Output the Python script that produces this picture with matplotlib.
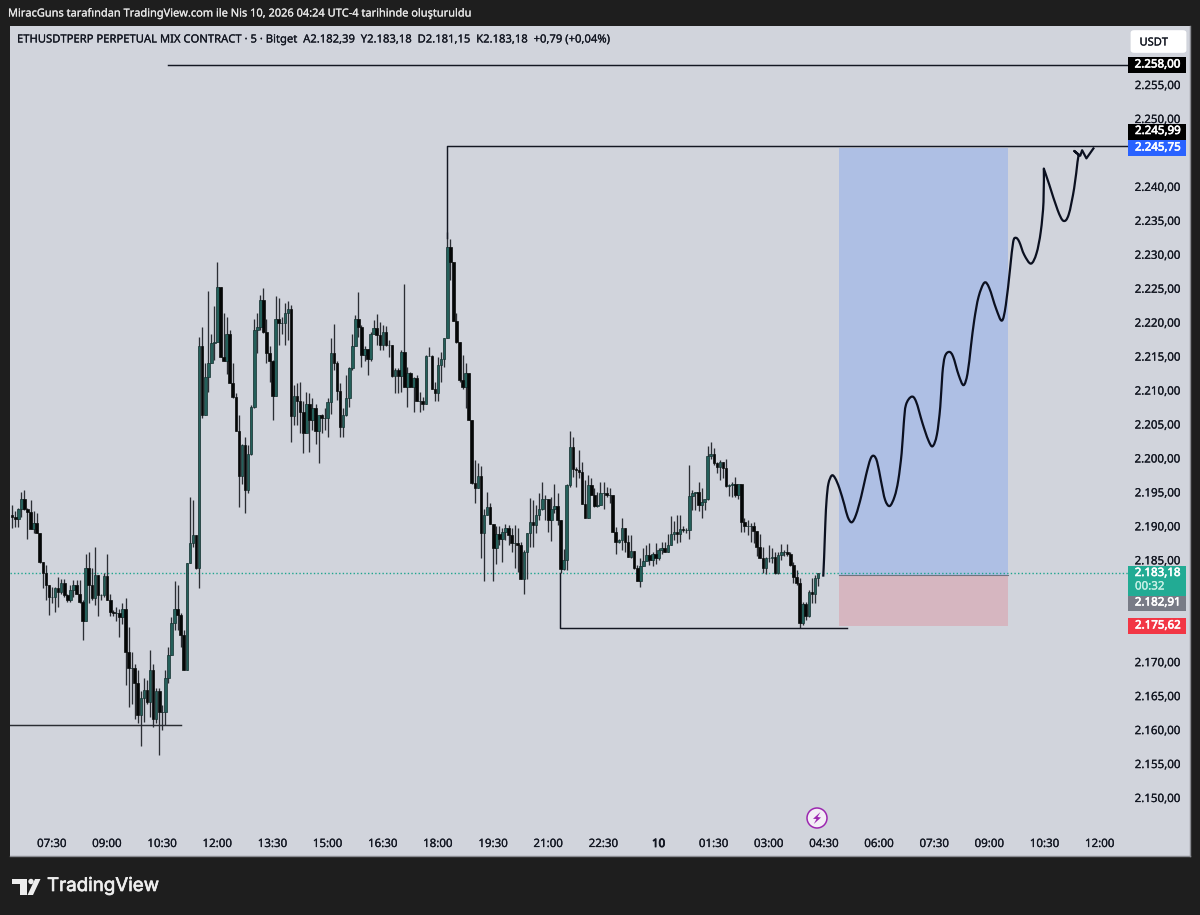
import numpy as np
import matplotlib
matplotlib.use("Agg")
import matplotlib.pyplot as plt
import matplotlib.patheffects as pe
from matplotlib.patches import Rectangle, FancyBboxPatch, Circle, Polygon, PathPatch
from matplotlib.path import Path
from matplotlib.transforms import IdentityTransform

# ---------- data ----------
first_open = 2191.7
closes = [
2191.4,2191.1,2192.5,2194.0,2192.5,2192.1,2189.6,2190.5,2189.0,2184.8,2183.1,2181.4,2179.6,2179.6,2180.9,2180.4,2181.6,2179.9,2179.2,2180.6,
2181.4,2180.1,2178.8,2176.0,2183.8,2181.4,2179.4,2182.8,2179.9,2179.9,2182.7,2179.2,2177.4,2177.2,2177.3,2176.7,2177.9,2171.5,2169.1,2169.1,
2167.0,2162.2,2164.7,2165.9,2164.2,2168.8,2161.7,2165.7,2162.7,2162.7,2167.6,2171.1,2175.7,2177.9,2176.9,2174.0,2168.8,2184.6,2187.5,2188.7,
2183.8,2216.5,2206.4,2212.0,2214.0,2217.0,2217.2,2225.3,2215.0,2214.4,2218.3,2211.1,2209.0,2204.0,2197.4,2202.0,2195.4,2200.6,2207.6,2218.9,
2219.4,2223.3,2218.7,2215.6,2214.3,2209.2,2220.5,2220.0,2220.0,2221.4,2222.0,2206.2,2209.2,2208.4,2206.9,2203.8,2208.0,2205.6,2207.4,2204.0,
2206.4,2205.9,2205.9,2208.3,2215.6,2214.0,2209.9,2204.7,2206.4,2208.9,2213.4,2216.5,2220.6,2219.4,2215.3,2216.1,2214.7,2218.4,2219.2,2218.2,
2216.7,2218.7,2216.7,2216.7,2212.1,2213.0,2212.1,2215.7,2210.6,2212.6,2210.6,2211.8,2208.4,2208.4,2208.1,2215.1,2215.1,2210.3,2209.6,2213.8,
2214.7,2217.7,2231.1,2228.9,2220.3,2217.2,2211.6,2210.5,2212.6,2205.7,2196.4,2195.6,2197.4,2189.1,2191.7,2192.8,2190.4,2186.8,2188.9,2188.2,
2189.2,2189.8,2188.7,2187.5,2187.5,2187.2,2182.3,2186.3,2189.0,2190.7,2190.2,2191.7,2192.6,2194.1,2194.1,2190.9,2192.6,2193.0,2191.0,2183.7,
2185.0,2196.1,2201.7,2198.5,2198.3,2198.0,2193.3,2191.3,2196.1,2194.6,2193.0,2193.1,2194.9,2194.9,2194.6,2194.6,2189.2,2187.7,2188.0,2189.7,
2187.7,2185.5,2186.4,2183.8,2181.9,2184.1,2184.9,2185.8,2185.0,2186.0,2185.3,2186.5,2186.8,2186.3,2187.2,2188.9,2189.2,2188.9,2189.6,2189.5,
2189.5,2194.5,2194.9,2195.0,2193.2,2193.6,2194.0,2200.3,2200.7,2199.3,2198.8,2199.5,2198.6,2195.9,2196.1,2196.3,2194.6,2196.2,2190.7,2190.0,
2190.0,2190.0,2189.3,2187.0,2185.3,2183.8,2185.3,2185.4,2185.5,2183.1,2185.8,2186.3,2186.3,2186.0,2184.3,2182.6,2181.6,2175.7,2178.6,2176.8,
2180.4,2180.1,2182.4,2183.18]
highs = [
2193.2,2192.2,2192.7,2195.1,2195.3,2192.7,2193.9,2192.3,2191.9,2189.0,2184.8,2184.3,2181.4,2181.1,2181.1,2182.6,2182.2,2182.2,2180.1,2181.4,
2182.1,2182.1,2182.1,2179.2,2185.9,2186.3,2183.8,2187.0,2182.8,2180.1,2183.1,2185.9,2180.1,2177.7,2178.1,2177.9,2178.7,2179.4,2175.2,2171.5,
2169.8,2168.8,2165.7,2167.6,2167.4,2171.8,2169.8,2166.2,2166.2,2163.7,2168.8,2172.3,2176.7,2181.9,2181.4,2177.2,2174.7,2184.6,2194.4,2193.9,
2188.7,2217.9,2219.4,2214.0,2224.7,2218.4,2222.4,2229.0,2225.3,2221.4,2220.9,2218.9,2214.0,2209.6,2206.4,2202.2,2203.1,2202.0,2207.9,2220.6,
2221.5,2224.1,2225.1,2220.6,2216.5,2214.5,2223.9,2223.6,2220.9,2222.9,2223.2,2222.6,2210.8,2211.1,2211.2,2208.4,2209.8,2209.6,2208.9,2208.1,
2206.4,2206.5,2207.4,2208.9,2217.7,2219.8,2214.3,2211.1,2207.4,2212.3,2213.5,2218.3,2221.1,2224.5,2219.7,2216.5,2216.2,2218.7,2220.4,2221.3,
2220.1,2219.7,2219.5,2217.4,2216.7,2213.3,2213.4,2216.0,2225.7,2213.5,2212.8,2212.0,2212.3,2209.8,2209.1,2215.2,2216.4,2215.2,2211.3,2215.0,
2215.7,2217.8,2233.4,2232.4,2228.9,2221.5,2217.2,2215.2,2214.0,2212.6,2205.7,2199.8,2199.4,2198.9,2192.5,2195.1,2193.5,2190.4,2190.0,2190.0,
2189.7,2190.3,2190.2,2189.7,2190.2,2189.7,2187.7,2186.5,2189.1,2194.2,2193.9,2193.1,2194.9,2196.6,2194.6,2194.1,2194.4,2196.3,2194.9,2191.0,
2186.6,2196.3,2204.0,2203.2,2198.8,2201.3,2199.5,2196.9,2197.6,2197.2,2195.7,2195.1,2196.6,2196.6,2195.8,2195.6,2194.6,2189.9,2188.2,2191.2,
2189.7,2188.7,2188.7,2186.4,2184.3,2185.3,2186.8,2187.2,2187.6,2186.3,2187.6,2186.8,2187.7,2187.7,2188.9,2191.5,2190.8,2191.7,2191.7,2190.0,
2189.7,2199.0,2195.4,2195.1,2196.6,2195.6,2194.1,2201.8,2202.5,2201.5,2199.5,2199.8,2198.7,2199.9,2196.3,2196.6,2197.3,2196.3,2196.2,2191.2,
2190.9,2190.5,2190.7,2189.3,2188.9,2187.0,2185.5,2187.3,2186.8,2186.3,2186.3,2187.4,2186.5,2187.4,2186.3,2184.8,2183.6,2182.4,2178.9,2178.8,
2180.6,2182.4,2182.8,2183.2]
lows = [
2189.7,2189.9,2189.9,2191.4,2192.4,2188.2,2189.6,2189.1,2189.0,2184.6,2181.0,2179.2,2177.0,2178.7,2177.4,2178.2,2180.1,2179.6,2178.8,2178.9,
2179.6,2180.0,2178.7,2173.3,2176.0,2178.7,2179.2,2178.4,2176.8,2179.2,2179.6,2179.1,2176.8,2176.8,2176.1,2173.7,2175.6,2166.6,2163.4,2163.9,
2161.7,2161.0,2157.7,2161.2,2163.9,2162.0,2160.5,2161.0,2156.3,2160.0,2160.7,2167.0,2171.1,2174.7,2174.7,2172.3,2168.8,2168.8,2184.6,2187.0,
2183.7,2181.0,2205.9,2206.4,2209.8,2214.0,2214.5,2217.2,2215.0,2214.3,2212.5,2211.1,2208.9,2204.0,2192.9,2196.3,2192.0,2194.9,2200.5,2207.4,
2215.6,2218.9,2218.5,2214.0,2211.2,2205.6,2209.2,2216.7,2218.4,2216.7,2217.5,2202.4,2204.9,2204.9,2203.7,2200.8,2203.8,2201.0,2204.2,2202.2,
2199.3,2203.7,2204.2,2203.2,2206.6,2213.0,2208.6,2203.2,2203.2,2206.2,2207.6,2213.0,2216.5,2217.9,2213.5,2214.3,2212.3,2214.4,2218.3,2216.7,
2216.0,2216.0,2216.6,2215.0,2212.0,2209.6,2209.6,2209.8,2210.5,2207.6,2210.5,2206.9,2208.4,2206.9,2207.1,2208.0,2215.1,2210.2,2208.5,2208.5,
2211.3,2213.5,2217.7,2226.3,2220.3,2217.0,2211.3,2210.2,2207.4,2205.7,2196.3,2193.4,2195.6,2185.3,2182.0,2191.7,2190.4,2182.0,2184.5,2187.2,
2184.8,2188.0,2187.2,2186.3,2183.8,2183.3,2182.3,2180.1,2182.3,2187.0,2187.0,2189.0,2190.9,2192.4,2190.9,2189.2,2187.9,2191.9,2190.2,2183.1,
2183.6,2183.6,2195.8,2197.3,2195.8,2197.1,2193.3,2191.3,2191.3,2194.6,2192.9,2192.9,2193.1,2192.6,2194.4,2193.4,2189.2,2185.9,2187.5,2186.5,
2186.3,2185.5,2185.3,2183.7,2181.9,2181.1,2184.1,2185.0,2184.3,2184.1,2184.5,2185.0,2186.0,2186.3,2186.3,2187.2,2188.0,2187.6,2187.7,2189.2,
2189.0,2188.2,2192.4,2192.4,2192.2,2191.3,2192.4,2193.9,2200.0,2199.0,2197.8,2196.9,2197.1,2195.8,2194.5,2194.4,2194.4,2194.1,2189.2,2189.2,
2188.7,2187.7,2187.5,2185.6,2185.3,2183.1,2183.0,2184.8,2184.6,2183.0,2183.0,2185.1,2185.6,2185.6,2184.2,2181.6,2181.4,2175.1,2175.5,2176.2,
2176.7,2178.7,2178.7,2181.15]

forecast_bar = [264.7,265.0,265.4,265.8,266.4,267.5,268.6,270.0,271.6,272.7,274.0,275.4,277.1,278.7,280.1,281.2,282.3,283.6,284.9,286.4,
288.0,289.2,290.3,291.0,291.7,293.5,295.0,297.1,299.0,300.4,301.8,302.9,303.6,304.4,305.8,307.1,308.9,310.5,311.8,312.9,
314.0,315.4,317.3,318.9,321.1,323.0,324.3,325.7,326.7,327.6,328.7,330.3,332.5,334.3,335.7,336.6,336.7,338.5,341.2,343.1,
344.8,346.6,347.7,348.1,346.6,348.6,349.2,350.6,353.1]
forecast_price = [2182.6,2185.5,2190.5,2193.9,2196.3,2197.5,2197.1,2195.6,2193.2,2191.4,2190.6,2191.7,2194.4,2197.6,2199.9,2200.4,2199.5,2196.6,2193.9,2193.0,
2194.4,2196.8,2200.8,2205.2,2207.9,2209.1,2208.4,2205.2,2202.7,2201.8,2203.5,2207.6,2212.5,2215.0,2215.7,2215.0,2212.3,2210.8,2212.5,2216.5,
2220.4,2223.8,2225.9,2225.1,2222.1,2220.3,2222.6,2228.0,2231.9,2232.5,2231.9,2230.0,2228.7,2230.2,2233.4,2237.8,2242.7,2240.3,2236.6,2235.0,
2235.9,2239.8,2243.7,2244.7,2245.3,2244.6,2245.4,2244.2,2245.8]
forecast_corners = [56, 63, 64, 65, 66, 67, 68]

time_labels = ["07:30","09:00","10:30","12:00","13:30","15:00","16:30","18:00","19:30","21:00",
               "22:30","10","01:30","03:00","04:30","06:00","07:30","09:00","10:30","12:00"]
price_ticks = [2150,2155,2160,2165,2170,2185,2190,2195,2200,2205,2210,2215,2220,2225,2230,2235,2240,2250,2255]

last_price = 2183.18
target_price = 2245.75
entry_price = 2182.8
stop_box = 2175.35
box_bars = [269.9, 325.0]
level_top = 2258.0
level_mid = 2245.99
level_low = 2175.0
level_left = 2160.75
level_top_start = 50.8
level_mid_start = 141.8
level_mid_end = 2232.5
level_low_span = [178.7, 272.6]
level_low_top = 2183.2
level_left_span = [-0.7, 55.1]

header = "ETHUSDTPERP PERPETUAL MIX CONTRACT · 5 · Bitget  A2.182,39  Y2.183,18  D2.181,15  K2.183,18  +0,79 (+0,04%)"
credit = "MiracGuns tarafından TradingView.com ile Nis 10, 2026 04:24 UTC-4 tarihinde oluşturuldu"

# ---------- layout ----------
W, H = 1200, 915
L, R, T, B = 10, 1190, 26, 856
PX_BAR = 3.064
X0, I0 = 52.0, 13
PX_P = 6.79
Y0, P0 = 798.0, 2150.0
TAG_X = 1128

def heavy(w, col):
    return [pe.withStroke(linewidth=w, foreground=col)]

plt.rcParams['font.family'] = ['Noto Sans', 'DejaVu Sans']
fig = plt.figure(figsize=(W/100, H/100), dpi=100, facecolor='#1e1e1e')
ax = fig.add_axes([L/W, 1-B/H, (R-L)/W, (B-T)/H], facecolor='#d1d4dc')
ax.set_xlim(I0+(L-X0)/PX_BAR, I0+(R-X0)/PX_BAR)
ax.set_ylim(P0+(Y0-B)/PX_P, P0+(Y0-T)/PX_P)
tag_bar = I0+(TAG_X-X0)/PX_BAR

for s in ax.spines.values():
    s.set_color('#8a8c92'); s.set_linewidth(1.0)
ax.spines['top'].set_visible(False); ax.spines['left'].set_visible(False)

# position boxes
ax.fill_between(box_bars, entry_price, target_price, color='#aebfe4', lw=0, zorder=1)
ax.fill_between(box_bars, stop_box, entry_price, color='#d6b6c0', lw=0, zorder=1)
ax.plot(box_bars, [entry_price]*2, color='#6f7480', lw=0.8, zorder=2)

# last price line
ax.plot([ax.get_xlim()[0], tag_bar], [last_price]*2, color='#1fa58e', lw=1.0, ls=(0,(1,1.6)), zorder=2)

# candles
c = np.array(closes); o = np.r_[first_open, c[:-1]]
h = np.maximum(np.array(highs), np.maximum(o, c)); l = np.minimum(np.array(lows), np.minimum(o, c))
idx = np.arange(len(c))
up = c >= o
ax.vlines(idx, l, h, color='#2b2e34', lw=0.95, zorder=3)
ax.bar(idx[up], (c-o)[up], bottom=o[up], width=0.85, color='#245f5a', edgecolor='#14302f', lw=0.5, zorder=4)
ax.bar(idx[~up], np.maximum((o-c)[~up], 0.15), bottom=c[~up], width=0.85, color='#050707', edgecolor='#0b0d0d', lw=0.5, zorder=4)

# hand-drawn levels
lc = '#131722'
ax.plot([level_top_start, tag_bar], [level_top]*2, color=lc, lw=1.05, zorder=5)
ax.plot([level_mid_start, level_mid_start, tag_bar], [level_mid_end, level_mid, level_mid], color=lc, lw=1.05, zorder=5)
ax.plot([level_low_span[0], level_low_span[0], level_low_span[1]], [level_low_top, level_low, level_low], color=lc, lw=1.05, zorder=5)
ax.plot(level_left_span, [level_left]*2, color='#2a2d33', lw=1.05, zorder=5)

# forecast path: the read points joined by bezier segments so the stroke stays smooth
fx_pts = np.array(forecast_bar); fy_pts = np.array(forecast_price)
tx = np.gradient(fx_pts); ty = np.gradient(fy_pts)
tx[forecast_corners] = 0; ty[forecast_corners] = 0
verts = [(fx_pts[0], fy_pts[0])]; codes = [Path.MOVETO]
for i in range(len(fx_pts)-1):
    verts += [(fx_pts[i]+tx[i]/3, fy_pts[i]+ty[i]/3),
              (fx_pts[i+1]-tx[i+1]/3, fy_pts[i+1]-ty[i+1]/3),
              (fx_pts[i+1], fy_pts[i+1])]
    codes += [Path.CURVE4]*3
ax.add_patch(PathPatch(Path(verts, codes), facecolor='none', edgecolor='#0b1020', lw=1.6, zorder=6, joinstyle='round'))

# axes ticks
ax.set_xticks([I0+18*k for k in range(len(time_labels))])
ax.set_xticklabels(time_labels, fontsize=8.3, color='#131722')
for t, s in zip(ax.get_xticklabels(), time_labels):
    if s == "10":
        t.set_path_effects(heavy(0.6, '#131722'))
    else:
        t.set_path_effects(heavy(0.15, '#131722'))
ax.tick_params(axis='x', length=0, pad=-17*0.72)
ax.yaxis.tick_right()
ax.set_yticks(price_ticks)
ax.set_yticklabels([f"{p:,.2f}".replace(",", "#").replace(".", ",").replace("#", ".") for p in price_ticks],
                   fontsize=8.3, color='#131722', ha='right')
for t in ax.get_yticklabels():
    t.set_path_effects(heavy(0.15, '#131722'))
ax.tick_params(axis='y', length=0, pad=-9*0.72)

# ---------- chrome in pixel space ----------
def fx(x): return x/W
def fy(y): return 1-y/H
def rect(x0, y0, x1, y1, col, z=10):
    fig.add_artist(Rectangle((fx(x0), fy(y1)), (x1-x0)/W, (y1-y0)/H, transform=fig.transFigure,
                             facecolor=col, edgecolor='none', zorder=z))
def label(x, y, s, col, size=8.3, ha='left', stroke=0.0, z=11):
    t = fig.text(fx(x), fy(y), s, color=col, fontsize=size, ha=ha, va='center', zorder=z)
    if stroke:
        t.set_path_effects(heavy(stroke, col))
    return t

label(8, 14, credit, '#e6e6e6', size=7.93, stroke=0.15)
label(17, 40, header, '#131722', size=8.09, stroke=0.15)

# USDT button
fig.add_artist(FancyBboxPatch((fx(1133), fy(51)), 51/W, 19/H, boxstyle="round,pad=0.002,rounding_size=0.003",
                              transform=fig.transFigure, facecolor='white', edgecolor='none', zorder=10))
label(1139.5, 43, "USDT", '#131722', size=8.0, stroke=0.15)

# price tags
rect(1128, 57, 1186, 73, '#000000'); label(1181, 65, "2.258,00", 'white', ha='right', stroke=0.45)
rect(1128, 124, 1186, 139.5, '#000000'); label(1181, 131.5, "2.245,99", 'white', ha='right', stroke=0.45)
rect(1128, 140, 1186, 156, '#2962ff'); label(1181, 148, "2.245,75", 'white', ha='right', stroke=0.45)
rect(1128, 566, 1186, 596, '#22ab94'); label(1181, 573.5, "2.183,18", 'white', ha='right', stroke=0.45)
label(1135, 587, "00:32", '#c8f0e6', stroke=0.2)
rect(1128, 596, 1186, 611, '#787b86'); label(1181, 603, "2.182,91", 'white', ha='right', stroke=0.45)
rect(1128, 618, 1186, 634, '#f23645'); label(1181, 626, "2.175,62", 'white', ha='right', stroke=0.45)

# bolt icon
fig.add_artist(Circle((817, H-818), 10, transform=IdentityTransform(), facecolor='#f3eef6', edgecolor='#9c27b0', lw=1.1, zorder=10))
bolt = [(820.5,812),(813,818.8),(816.5,819),(813.8,824),(821,817.5),(817.5,817)]
fig.add_artist(Polygon([(fx(a), fy(b)) for a, b in bolt], closed=True, transform=fig.transFigure, facecolor='#9c27b0', edgecolor='none', zorder=11))

# TradingView logo
logo = '#ededed'
rect(12, 879, 27, 884, logo, z=12); rect(20, 884, 27, 895, logo, z=12)
fig.add_artist(Circle((31, H-881.5), 2.7, transform=IdentityTransform(), facecolor=logo, edgecolor='none', zorder=12))
fig.add_artist(Polygon([(fx(a), fy(b)) for a, b in [(35,879),(40.5,879),(33,895),(27.5,895)]], closed=True,
                       transform=fig.transFigure, facecolor=logo, edgecolor='none', zorder=12))
t = fig.text(fx(47), fy(886.5), "TradingView", color=logo, fontsize=13.5,
             family=['Inter', 'DejaVu Sans'], va='center', ha='left')
t.set_path_effects(heavy(0.5, logo))

fig.savefig("out.png", dpi=100, facecolor=fig.get_facecolor())
